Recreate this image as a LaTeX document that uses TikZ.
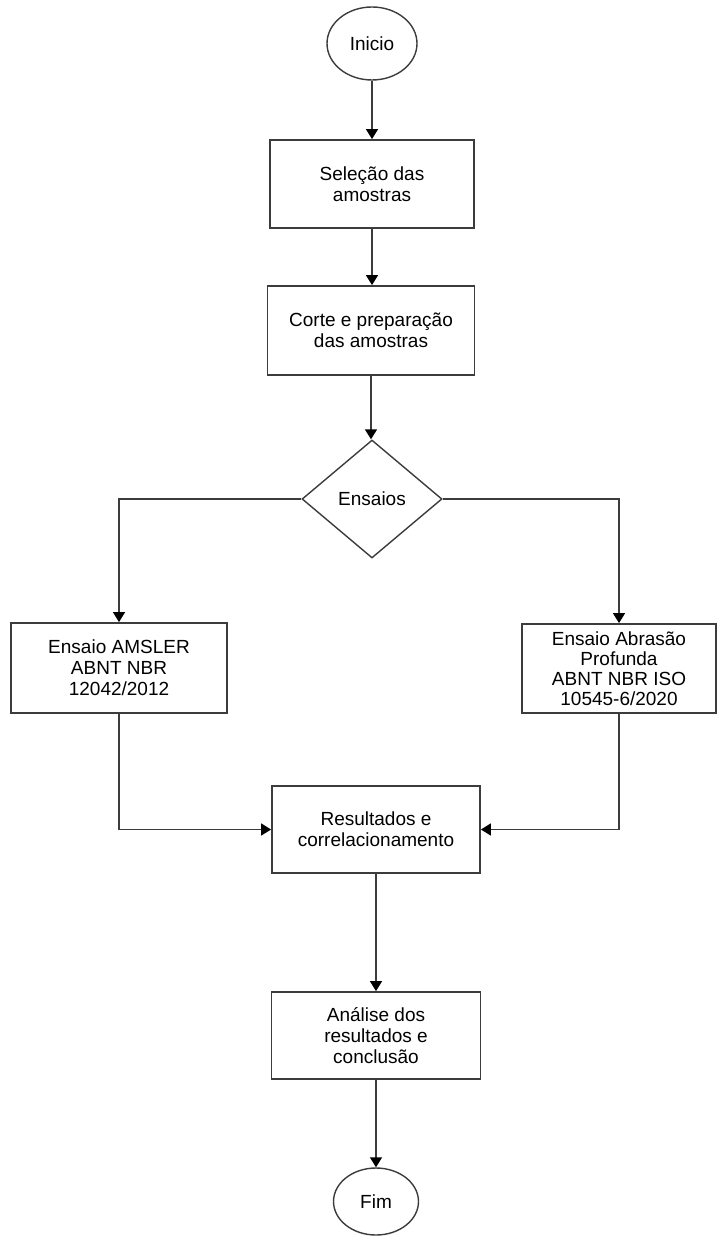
\documentclass[tikz,border=0pt]{standalone}
\usepackage{fontspec}
\setmainfont{Liberation Sans}
\usetikzlibrary{shapes.geometric,arrows.meta}
\definecolor{linegray}{RGB}{60,60,60}
\begin{document}
\begin{tikzpicture}[x=1pt,y=-1pt,
  every node/.style={font=\fontsize{19}{21}\selectfont, align=center, inner sep=0pt},
  boxnode/.style={draw=linegray, line width=1.8pt, rectangle, fill=white},
  ovalnode/.style={draw=linegray, line width=1.4pt, ellipse, fill=white},
  decnode/.style={draw=linegray, line width=1.4pt, diamond, fill=white},
  conn/.style={draw=linegray, line width=1.5pt, -{Triangle[width=12pt,length=10pt,color=black]}}
]
\useasboundingbox (0,0) rectangle (716,1238);
\node[ovalnode, minimum width=90pt, minimum height=73pt] (ini) at (372,43.5) {Inicio};
\node[boxnode, minimum width=204pt, minimum height=88pt] (sel) at (372,184) {Seleção das\\amostras};
\node[boxnode, minimum width=207pt, minimum height=89pt] (cor) at (371,330.5) {Corte e preparação\\das amostras};
\node[decnode, minimum width=140pt, minimum height=118pt, aspect=1.19] (ens) at (372,499) {Ensaios};
\node[boxnode, minimum width=216pt, minimum height=90pt] (ams) at (119,668) {Ensaio AMSLER\\ABNT NBR\\12042/2012};
\node[boxnode, minimum width=194pt, minimum height=89pt, font=\fontsize{19}{20}\selectfont] (abr) at (619,668.5) {Ensaio Abrasão\\Profunda\\ABNT NBR ISO\\10545-6/2020};
\node[boxnode, minimum width=208pt, minimum height=87pt] (res) at (376,829.5) {Resultados e\\correlacionamento};
\node[boxnode, minimum width=209pt, minimum height=87pt] (ana) at (376,1035.5) {Análise dos\\resultados e\\conclusão};
\node[ovalnode, minimum width=85pt, minimum height=67pt] (fim) at (376,1201.5) {Fim};
\draw[conn] (ini) -- (sel);
\draw[conn] (sel.south) -- (sel.south |- cor.north);
\draw[conn] (cor.south) -- (cor.south |- ens.north);
\draw[conn] (ens.west) -| (ams.north);
\draw[conn] (ens.east) -| (abr.north);
\draw[conn] (ams.south) |- (res.west);
\draw[conn] (abr.south) |- (res.east);
\draw[conn] (res) -- (ana);
\draw[conn] (ana) -- (fim);
\end{tikzpicture}
\end{document}
